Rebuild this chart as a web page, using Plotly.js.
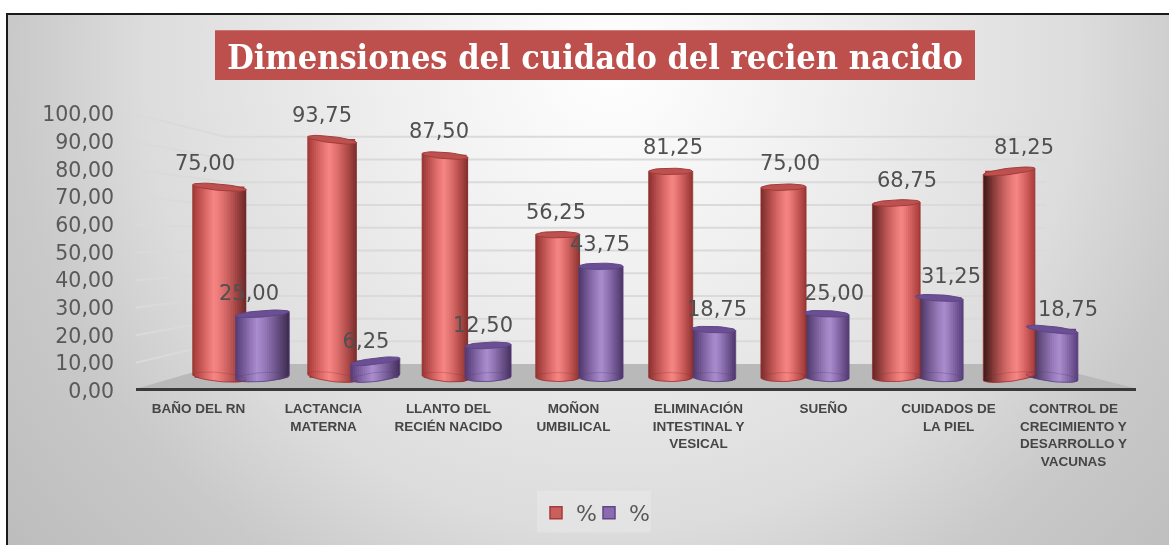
<!DOCTYPE html>
<html>
<head>
<meta charset="utf-8">
<script src="https://cdn.plot.ly/plotly-3.0.1.min.js"></script>
<style>
  html, body { margin: 0; padding: 0; background: #fff; overflow: hidden; }
  #frame {
    position: absolute; left: 6px; top: 13px; width: 1163px; height: 532px;
    box-sizing: border-box; border-left: 2px solid #1a1a1a; border-top: 2px solid #1a1a1a;
    background: radial-gradient(circle 800px at 604px 47px, #ffffff 0, #f1f1f1 200px, #dcdcdc 470px, #c9c9c9 600px, #bcbcbc 780px);
  }
  #chart { position: absolute; left: 0; top: 0; width: 1169px; height: 545px; filter: blur(0.45px); }
</style>
</head>
<body>
<div id="frame"></div>
<div id="chart"></div>
<script>
const categories = [
  'BAÑO DEL RN',
  'LACTANCIA<br>MATERNA',
  'LLANTO DEL<br>RECIÉN NACIDO',
  'MOÑON<br>UMBILICAL',
  'ELIMINACIÓN<br>INTESTINAL Y<br>VESICAL',
  'SUEÑO',
  'CUIDADOS DE<br>LA PIEL',
  'CONTROL DE<br>CRECIMIENTO Y<br>DESARROLLO Y<br>VACUNAS'
];
const redValues = [75, 93.75, 87.5, 56.25, 81.25, 75, 68.75, 81.25];
const purpleValues = [25, 6.25, 12.5, 43.75, 18.75, 25, 31.25, 18.75];
const yTicks = [0, 10, 20, 30, 40, 50, 60, 70, 80, 90, 100];

// fake 3D look, all in pixels and converted through the axis scales below
const PLOT_L = 136, PLOT_R = 1136, PLOT_T = 100, PLOT_B = 392;
const AXIS_LINE = 390;       // the floor edge sits a little above the 0,00 label
const CAT_W = (PLOT_R - PLOT_L) / 8;
const TICK_SCALE = 2.78;     // px per unit, tick axis
const BAR_SCALE = 2.54;      // px per unit, bar axis
const BAR_BASE = 378;        // pixel of value 0 for the bars
const CAP = 3.2;             // half height of the lids
const FOOT = 4.5;            // half height of the ellipse on the floor
const STRIPS = 24;

const redTilt = [-2.5, -3, -2, 0, 0, 0.5, 1, 3];
const purpleTilt = [2, 3, 1, 0, -1, -1, -1.5, -3];
const darkLeft = [0.15, 0.12, 0.2, 0.25, 0.3, 0.4, 0.55, 0.8];
const darkRight = [0.5, 0.4, 0.35, 0.3, 0.25, 0.2, 0.12, 0.1];

const redStyle = { light: [246, 134, 132], edge: [184, 64, 62], side: 'rgba(150,45,43,0.75)', ring: 'rgba(150,45,43,0.3)', line: '#a63a38', cap: '#bb5250', legend: '#c9605e' };
const purpleStyle = { light: [170, 141, 205], edge: [96, 68, 136], side: 'rgba(85,60,125,0.75)', ring: 'rgba(85,60,125,0.3)', line: '#5f4686', cap: '#6b4f94', legend: '#8a6bb0' };

// bars slide towards the middle of the floor and get narrower there
const redOffset = i => 21 - 12.2 * i;
const purpleOffset = i => 64 - 12.2 * i;
const barWidth = i => 44 + 0.7 * (i - 3.7) * (i - 3.7);

const xCenter = (i, off) => i + off / CAT_W;
const toBarY = px => px / BAR_SCALE;
const pixelToTick = py => (PLOT_B - py) / TICK_SCALE;
const pixelToX = px => (px - PLOT_L) / CAT_W - 0.5;
const fmt = v => v.toFixed(2).replace('.', ',');

function mix(a, b, t) {
  return a.map((c, k) => c + (b[k] - c) * t);
}

function stripColor(style, u, i) {
  const h = -0.2 + 0.07 * i;
  const side = u < h;
  const t = side ? (h - u) / (h + 1) : (u - h) / (1 - h);
  let c = mix(style.light, style.edge, t);
  c = mix(c, [26, 16, 16], (side ? darkLeft[i] : darkRight[i]) * t * t);
  return 'rgb(' + c.map(Math.round).join(',') + ')';
}

function stripTraces(values, style, offset, tilt, keep) {
  const out = [];
  const idx = values.map((v, i) => i).filter(keep);
  for (let j = 0; j < STRIPS; j++) {
    const u = -1 + (j + 0.5) * 2 / STRIPS;
    const round = Math.sqrt(1 - u * u);
    const bases = idx.map(i => toBarY((tilt[i] * u) - FOOT * round));
    // every strip runs on under the next one, otherwise thin seams show; the last one stops at the edge
    const grow = j < STRIPS - 1 ? 1.6 : 1;
    out.push({
      type: 'bar', yaxis: 'y2', showlegend: false, hoverinfo: 'skip',
      x: idx.map(i => {
        const w = barWidth(i) / STRIPS / CAT_W;
        return xCenter(i, offset(i)) + u * barWidth(i) / 2 / CAT_W + (grow - 1) * w / 2;
      }),
      width: idx.map(i => barWidth(i) / STRIPS / CAT_W * grow),
      base: bases,
      y: idx.map((i, k) => values[i] + toBarY(tilt[i] * u) - bases[k]),
      marker: { color: idx.map(i => stripColor(style, u, i)), line: { width: 0 } }
    });
  }
  return out;
}

// closed ellipse for the lid of every cylinder
function capTrace(values, style, offset, tilt) {
  const x = [], y = [];
  values.forEach((v, i) => {
    for (let a = 0; a <= 32; a++) {
      const u = Math.cos(a * Math.PI / 16), s = Math.sin(a * Math.PI / 16);
      x.push(xCenter(i, offset(i)) + u * barWidth(i) / 2 / CAT_W);
      y.push(v + toBarY(tilt[i] * u + CAP * s));
    }
    x.push(null); y.push(null);
  });
  return {
    type: 'scatter', mode: 'lines', yaxis: 'y2', x, y, fill: 'toself', fillcolor: style.cap,
    line: { color: style.line, width: 1 }, showlegend: false, hoverinfo: 'skip'
  };
}

// side outlines and the front of the foot; keep says which cylinders are in front
function sideTrace(values, style, offset, tilt, keepLeft, keepRight) {
  const x = [], y = [];
  values.forEach((v, i) => {
    const c = xCenter(i, offset(i)), half = barWidth(i) / 2 / CAT_W;
    if (keepLeft(i)) {
      x.push(c - half, c - half, null);
      y.push(v - toBarY(tilt[i]), -toBarY(tilt[i]), null);
    }
    if (keepRight(i)) {
      x.push(c + half, c + half, null);
      y.push(v + toBarY(tilt[i]), toBarY(tilt[i]), null);
    }
    for (let a = 16; a <= 32; a++) {
      const u = Math.cos(a * Math.PI / 16), s = Math.sin(a * Math.PI / 16);
      x.push(c + u * half);
      y.push(toBarY(tilt[i] * u + FOOT * s));
    }
    x.push(null); y.push(null);
  });
  return {
    type: 'scatter', mode: 'lines', yaxis: 'y2', x, y,
    line: { color: style.side, width: 1 }, showlegend: false, hoverinfo: 'skip'
  };
}

// back half of the ring on the floor, seen through the cylinder
function ringTrace(values, style, offset, tilt) {
  const x = [], y = [];
  values.forEach((v, i) => {
    const c = xCenter(i, offset(i)), half = barWidth(i) / 2 / CAT_W;
    for (let a = 0; a <= 16; a++) {
      const u = Math.cos(a * Math.PI / 16), s = Math.sin(a * Math.PI / 16);
      x.push(c + u * half);
      y.push(toBarY(tilt[i] * u + FOOT * s));
    }
    x.push(null); y.push(null);
  });
  return {
    type: 'scatter', mode: 'lines', yaxis: 'y2', x, y,
    line: { color: style.ring, width: 1 }, showlegend: false, hoverinfo: 'skip'
  };
}

function labelTrace(values, x0) {
  return {
    type: 'scatter', mode: 'text', yaxis: 'y2',
    x: values.map((v, i) => pixelToX(x0 + 117 * i)),
    y: values.map(v => v * 1.02 + 7.2),
    text: values.map(fmt),
    textposition: 'middle center',
    textfont: { family: 'DejaVu Sans', size: 21, color: '#505050' },
    showlegend: false, hoverinfo: 'skip'
  };
}

function legendBar(values, style, offset, legendId) {
  return {
    type: 'bar', yaxis: 'y2', name: '%', hoverinfo: 'skip', legend: legendId,
    x: values.map((v, i) => xCenter(i, offset(i))),
    width: values.map((v, i) => barWidth(i) / CAT_W * 0.9),
    y: values,
    marker: { color: style.legend, line: { color: style.line, width: 1.5 } }
  };
}

const traces = [
  legendBar(redValues, redStyle, redOffset, 'legend'),
  legendBar(purpleValues, purpleStyle, purpleOffset, 'legend2'),
  // from the fifth group on the red cylinder stands in front of the purple one
  ...stripTraces(purpleValues, purpleStyle, purpleOffset, purpleTilt, i => i >= 4),
  ...stripTraces(redValues, redStyle, redOffset, redTilt, () => true),
  ...stripTraces(purpleValues, purpleStyle, purpleOffset, purpleTilt, i => i < 4),
  ringTrace(redValues, redStyle, redOffset, redTilt),
  ringTrace(purpleValues, purpleStyle, purpleOffset, purpleTilt),
  sideTrace(redValues, redStyle, redOffset, redTilt, () => true, i => i >= 4),
  sideTrace(purpleValues, purpleStyle, purpleOffset, purpleTilt, i => i < 4, () => true),
  capTrace(redValues, redStyle, redOffset, redTilt),
  capTrace(purpleValues, purpleStyle, purpleOffset, purpleTilt),
  labelTrace(redValues, 205),
  labelTrace(purpleValues, 249)
];

const paperX = px => (px - PLOT_L) / (PLOT_R - PLOT_L);
const paperY = py => (PLOT_B - py) / (PLOT_B - PLOT_T);

// back wall gridlines and the floor
const wallLeft = pixelToX(226), wallRight = pixelToX(1046);
const shapes = yTicks.filter(t => t > 0).map(t => {
  const back = pixelToTick(365 - t * 2.28);
  return {
    type: 'path', xref: 'x', yref: 'y', layer: 'below',
    path: `M ${pixelToX(134)} ${t} L ${wallLeft} ${back} L ${wallRight} ${back}`,
    line: { color: '#dadada', width: 2 }
  };
});
shapes.push({
  type: 'path', xref: 'x', yref: 'y', layer: 'below',
  path: `M ${pixelToX(135)} ${pixelToTick(AXIS_LINE)} L ${pixelToX(222)} ${pixelToTick(365)} L ${pixelToX(1040)} ${pixelToTick(365)} L ${pixelToX(1138)} ${pixelToTick(AXIS_LINE)} Z`,
  fillcolor: '#b9b9b9', line: { width: 0 }
});
// title plate
shapes.push({
  type: 'rect', xref: 'paper', yref: 'paper', layer: 'below',
  x0: paperX(215), x1: paperX(975), y0: paperY(80), y1: paperY(30),
  fillcolor: '#bd504c', line: { width: 0 }
});
// legend plate behind the two separate legends
shapes.push({
  type: 'rect', xref: 'paper', yref: 'paper', layer: 'below',
  x0: paperX(537), x1: paperX(651), y0: paperY(534), y1: paperY(492),
  fillcolor: 'rgba(255,255,255,0.2)', line: { width: 0 }
});

const legendFont = { family: 'DejaVu Sans', size: 22, color: '#595959' };

const layout = {
  width: 1169, height: 545,
  paper_bgcolor: 'rgba(0,0,0,0)', plot_bgcolor: 'rgba(0,0,0,0)',
  margin: { l: PLOT_L, r: 1169 - PLOT_R, t: PLOT_T, b: 545 - PLOT_B, pad: 0 },
  barmode: 'overlay',
  title: {
    text: 'Dimensiones del cuidado del recien nacido',
    xref: 'container', yref: 'container', x: 595 / 1169, y: 1 - 57 / 545,
    xanchor: 'center', yanchor: 'middle',
    font: { family: 'DejaVu Serif Condensed, DejaVu Serif', size: 34, color: '#fff', weight: 'bold', stretch: 'condensed' }
  },
  xaxis: {
    range: [-0.5, 7.5], tickmode: 'array', tickvals: categories.map((c, i) => i), ticktext: categories,
    anchor: 'free', position: (PLOT_B - AXIS_LINE) / (PLOT_B - PLOT_T),
    tickangle: 0, showgrid: false, zeroline: false, showline: true, linecolor: '#3a3a3a', linewidth: 3,
    ticks: '', ticklabelstandoff: 6, automargin: false,
    tickfont: { family: 'Liberation Sans', size: 13.5, color: '#454545', weight: 'bold' }
  },
  yaxis: {
    range: [0, (PLOT_B - PLOT_T) / TICK_SCALE], tickmode: 'array', tickvals: yTicks, ticktext: yTicks.map(fmt),
    showgrid: false, zeroline: false, showline: false, ticks: '', ticklabelstandoff: 21, automargin: false,
    tickfont: { family: 'DejaVu Sans', size: 20.5, color: '#595959' }
  },
  yaxis2: {
    overlaying: 'y', side: 'left', visible: false,
    range: [(BAR_BASE - PLOT_B) / BAR_SCALE, (BAR_BASE - PLOT_T) / BAR_SCALE]
  },
  legend: {
    x: paperX(536), y: paperY(513), xanchor: 'left', yanchor: 'middle',
    bgcolor: 'rgba(0,0,0,0)', font: legendFont
  },
  legend2: {
    x: paperX(589), y: paperY(513), xanchor: 'left', yanchor: 'middle',
    bgcolor: 'rgba(0,0,0,0)', font: legendFont
  },
  shapes
};

Plotly.newPlot('chart', traces, layout, { staticPlot: true, displayModeBar: false });
</script>
</body>
</html>
